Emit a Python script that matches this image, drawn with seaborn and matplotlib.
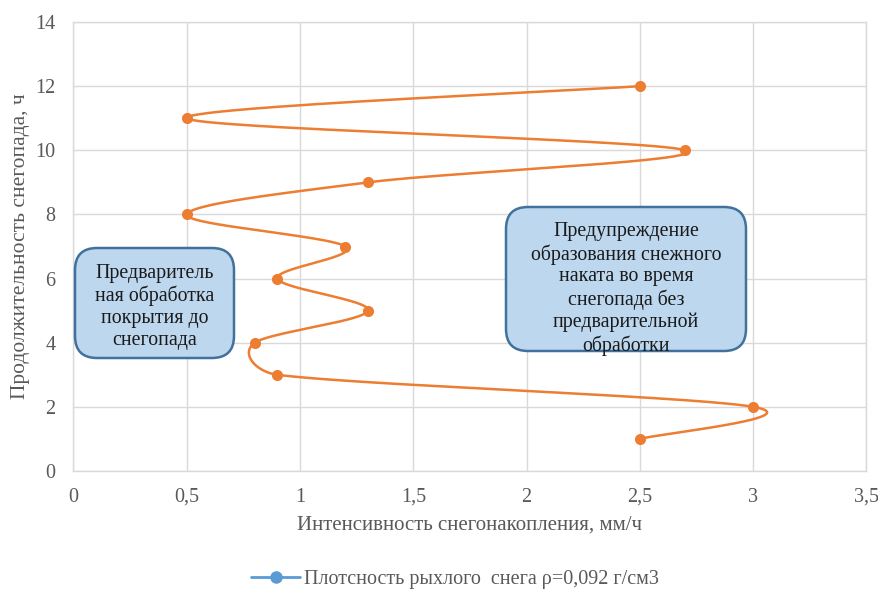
import numpy as np
import pandas as pd
import matplotlib
matplotlib.use("Agg")
import matplotlib.pyplot as plt
from matplotlib.lines import Line2D
from matplotlib.patches import FancyBboxPatch
from matplotlib.transforms import IdentityTransform
import seaborn as sns

# Snowfall data: accumulation intensity (mm/h) vs. snowfall duration (h)
intensity = [2.5, 3.0, 0.9, 0.8, 1.3, 0.9, 1.2, 0.5, 1.3, 2.7, 0.5, 2.5]
duration = [1, 2, 3, 4, 5, 6, 7, 8, 9, 10, 11, 12]
x_ticks = [0, 0.5, 1, 1.5, 2, 2.5, 3, 3.5]
x_tick_labels = ["0", "0,5", "1", "1,5", "2", "2,5", "3", "3,5"]
y_ticks = [0, 2, 4, 6, 8, 10, 12, 14]
series_name = "Плотсность рыхлого  снега ρ=0,092 г/см3"
x_title = "Интенсивность снегонакопления, мм/ч"
y_title = "Продолжительность снегопада, ч"
note_left = "Предваритель\nная обработка\nпокрытия до\nснегопада"
note_right = "Предупреждение\nобразования снежного\nнаката во время\nснегопада без\nпредварительной\nобработки"

sns.set_theme(style="whitegrid")
plt.rcParams["font.family"] = ["Liberation Serif", "DejaVu Serif"]

W, H = 879, 589
fig = plt.figure(figsize=(W / 100, H / 100), dpi=100)
ax = fig.add_axes([73.5 / W, 1 - 471 / H, (866.5 - 73.5) / W, (471 - 22) / H])

XMAX, YMAX = 3.5, 14
sx = (866.5 - 73.5) / XMAX   # px per x unit
sy = (471 - 22) / YMAX       # px per y unit


def smooth_path(xs, ys, n=60, clamp=0.55):
    """Catmull-Rom Bezier smoothing in screen space, with handles
    limited to a fraction of the segment they belong to."""
    P = np.column_stack([np.asarray(xs) * sx, np.asarray(ys) * sy])
    m = len(P)
    d = np.linalg.norm(np.diff(P, axis=0), axis=1)

    def handle(vec, seg_len):
        L = np.linalg.norm(vec)
        lim = clamp * seg_len
        return vec if L <= lim or L == 0 else vec * (lim / L)

    out = []
    for i in range(m - 1):
        p1, p2 = P[i], P[i + 1]
        t1 = (P[i + 1] - P[i - 1]) / 6 if i > 0 else (p2 - p1) / 6
        t2 = (P[i + 2] - P[i]) / 6 if i + 2 < m else (p2 - p1) / 6
        c1 = p1 + handle(t1, d[i])
        c2 = p2 - handle(t2, d[i])
        t = np.linspace(0, 1, n)[:, None]
        seg = ((1 - t) ** 3) * p1 + 3 * ((1 - t) ** 2) * t * c1 + 3 * (1 - t) * t ** 2 * c2 + t ** 3 * p2
        out.append(seg if i == 0 else seg[1:])
    pts = np.vstack(out)
    return pts[:, 0] / sx, pts[:, 1] / sy


cx, cy = smooth_path(intensity, duration)
curve = pd.DataFrame({"x": cx, "y": cy})
pts = pd.DataFrame({"x": intensity, "y": duration})

orange = "#ED7D31"
sns.lineplot(data=curve, x="x", y="y", sort=False, estimator=None, color=orange,
             linewidth=1.8, ax=ax, zorder=3)
sns.scatterplot(data=pts, x="x", y="y", color=orange, s=64, edgecolor=orange,
                linewidth=0, ax=ax, zorder=4)

ax.set_xlim(0, XMAX)
ax.set_ylim(0, YMAX)
ax.set_xticks(x_ticks)
ax.set_xticklabels(x_tick_labels)
ax.set_yticks(y_ticks)
grey = "#595959"
ax.tick_params(axis="both", labelsize=14.5, colors=grey, length=0)
ax.tick_params(axis="x", pad=12)
ax.tick_params(axis="y", pad=13)
ax.grid(color="#D9D9D9", linewidth=1)
for sp in ax.spines.values():
    sp.set_color("#D9D9D9")
    sp.set_linewidth(1)
ax.set_xlabel(x_title, fontsize=15, color=grey, labelpad=6.5)
ax.set_ylabel(y_title, fontsize=15.5, color=grey, labelpad=4)

# Annotation boxes
def note(x0, y0, x1, y1, text, text_y):
    box = FancyBboxPatch((x0, H - y1), x1 - x0, y1 - y0,
                         boxstyle="round,pad=0,rounding_size=22",
                         facecolor="#BDD7EE", edgecolor="#41719C", linewidth=1.8,
                         transform=IdentityTransform(), zorder=10)
    fig.add_artist(box)
    fig.text(((x0 + x1) / 2) / W, 1 - text_y / H, text,
             ha="center", va="center", fontsize=14.3, color="#1a1a1a",
             linespacing=1.2, zorder=11)

note(75, 248, 234, 358, note_left, 307)
note(506, 207, 746, 351, note_right, 289)

handle = Line2D([0], [0], color="#5B9BD5", linewidth=2, marker="o",
                markersize=8, markerfacecolor="#5B9BD5", markeredgecolor="#5B9BD5")
fig.legend([handle], [series_name], loc="center", bbox_to_anchor=(455 / W, 1 - 579 / H),
           frameon=False, fontsize=14.5, labelcolor=grey, handlelength=2.4,
           handletextpad=0.2)

fig.savefig("out.png", dpi=100)
